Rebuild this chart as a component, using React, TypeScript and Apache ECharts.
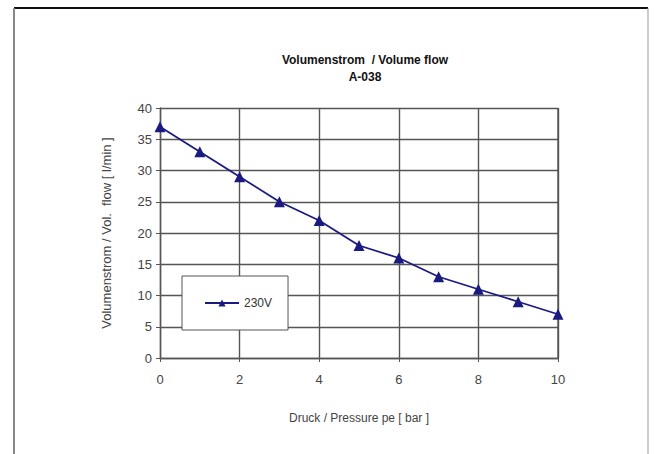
import React, { useEffect, useRef } from "react";
import * as echarts from "echarts";

const pressure = [0, 1, 2, 3, 4, 5, 6, 7, 8, 9, 10];
const flow230V = [37, 33, 29, 25, 22, 18, 16, 13, 11, 9, 7];
const seriesName = "230V";
const titleLine1 = "Volumenstrom  / Volume flow";
const titleLine2 = "A-038";
const xName = "Druck / Pressure pe [ bar ]";
const yName = "Volumenstrom / Vol.  flow [ l/min ]";

export default function App() {
  const ref = useRef<HTMLDivElement>(null);
  useEffect(() => {
    document.body.style.margin = "0";
    const chart = echarts.init(ref.current!, null, { renderer: "svg" });
    const font = "Liberation Sans, Arial, sans-serif";
    chart.setOption({
      animation: false,
      backgroundColor: "#ffffff",
      textStyle: { fontFamily: font },
      title: {
        text: titleLine1 + "\n" + titleLine2,
        left: 360,
        top: 46,
        textAlign: "center",
        textStyle: {
          fontSize: 12,
          fontWeight: "bold",
          color: "#111",
          lineHeight: 17,
          fontFamily: font,
        },
      },
      grid: { left: 160, right: 96, top: 108, bottom: 96, show: false },
      legend: {
        left: 182,
        top: 276,
        orient: "vertical",
        padding: [21, 16, 21, 22],
        backgroundColor: "#fff",
        borderColor: "#555",
        borderWidth: 1,
        itemWidth: 34,
        itemHeight: 9,
        itemGap: 0,
        textStyle: { fontSize: 12, color: "#333", fontFamily: font },
        data: [seriesName],
      },
      xAxis: {
        type: "value",
        min: 0,
        max: 10,
        interval: 2,
        name: xName,
        nameLocation: "middle",
        nameGap: 54,
        nameTextStyle: { fontSize: 12, color: "#444", fontFamily: font },
        axisLine: { show: true, lineStyle: { color: "#555", width: 1.4 } },
        axisTick: { show: true, length: 4, inside: false, lineStyle: { color: "#555" } },
        axisLabel: { fontSize: 13, color: "#444", margin: 15 },
        splitLine: { show: true, lineStyle: { color: "#555", width: 1.4 } },
      },
      yAxis: {
        type: "value",
        min: 0,
        max: 40,
        interval: 5,
        name: yName,
        nameLocation: "middle",
        nameGap: 47,
        nameTextStyle: { fontSize: 13, color: "#444", fontFamily: font },
        axisLine: { show: true, lineStyle: { color: "#555", width: 1.4 } },
        axisTick: { show: true, length: 4, lineStyle: { color: "#555" } },
        axisLabel: { fontSize: 13, color: "#444", margin: 8 },
        splitLine: { show: true, lineStyle: { color: "#555", width: 1.4 } },
      },
      series: [
        {
          name: seriesName,
          type: "line",
          data: pressure.map((p, i) => [p, flow230V[i]]),
          symbol: "triangle",
          symbolSize: 11,
          lineStyle: { color: "#1a1a80", width: 1.8 },
          itemStyle: { color: "#1a1a80" },
        },
      ],
      graphic: [
        {
          type: "line",
          shape: { x1: 558, y1: 108, x2: 558, y2: 358 },
          style: { stroke: "#555", lineWidth: 1.4 },
          z: 1,
        },
        {
          type: "line",
          shape: { x1: 14, y1: 8, x2: 648, y2: 8 },
          style: { stroke: "#111", lineWidth: 2 },
        },
        {
          type: "line",
          shape: { x1: 14, y1: 8, x2: 14, y2: 454 },
          style: { stroke: "#888", lineWidth: 2 },
        },
        {
          type: "line",
          shape: { x1: 648, y1: 8, x2: 648, y2: 454 },
          style: { stroke: "#999", lineWidth: 1 },
        },
      ],
    });
    return () => chart.dispose();
  }, []);
  return <div ref={ref} style={{ width: 654, height: 454 }} />;
}
